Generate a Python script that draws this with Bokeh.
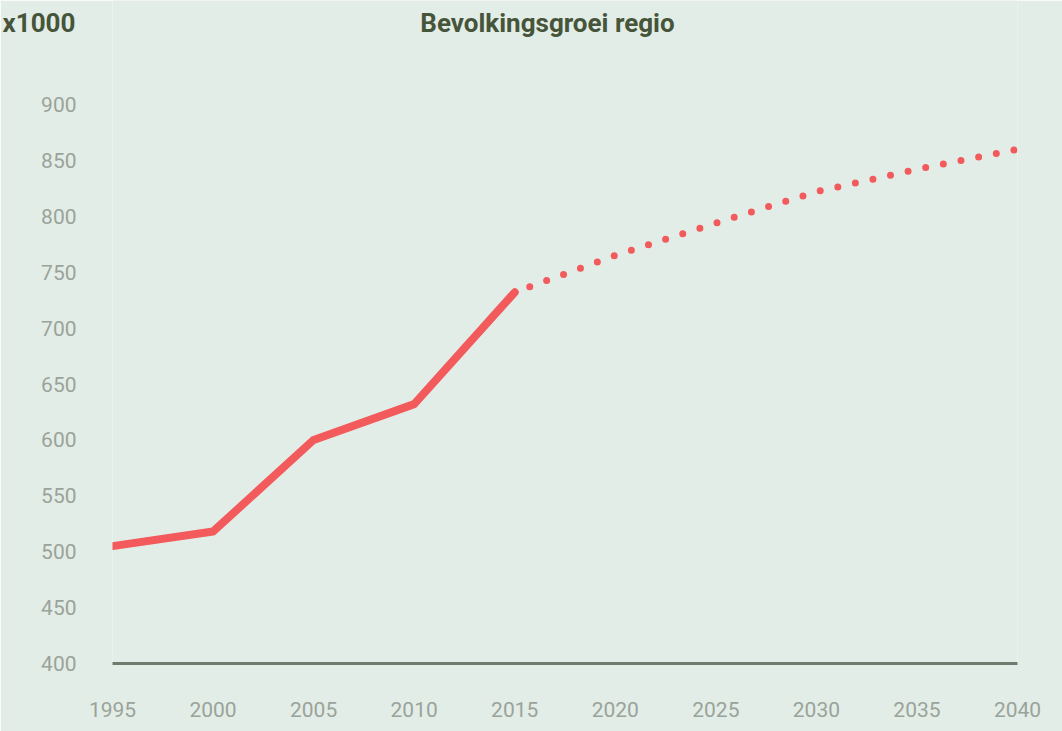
from bokeh.plotting import figure
from bokeh.models import FixedTicker, Range1d, Title, Label
from bokeh.embed import file_html
from bokeh.resources import INLINE

# data
years_actual = [1995, 2000, 2005, 2010, 2015]
pop_actual = [505, 518, 600, 632, 732]
years_proj = [2015, 2020, 2025, 2030, 2035, 2040]
pop_proj = [732, 765, 794, 822, 842, 860]
x_ticks = [1995, 2000, 2005, 2010, 2015, 2020, 2025, 2030, 2035, 2040]
y_ticks = [400, 450, 500, 550, 600, 650, 700, 750, 800, 850, 900]
title_text = "Bevolkingsgroei regio"
unit_text = "x1000"

BG = "#E3EDE7"
RED = "#F25A5C"
TXT = "#46553A"
TICK = "#9AA39A"

W, H = 1062, 731
FL, FR, FB = 112, 1017, 663          # plot area edges (px)
Y0, Y1, Y1_PX = 400, 900, 104        # 900 sits at pixel 104
y_top = Y0 + (Y1 - Y0) * FB / (FB - Y1_PX)   # extend range up to the canvas top

p = figure(width=W, height=H, output_backend="svg", toolbar_location=None,
           x_range=Range1d(1995, 2040), y_range=Range1d(Y0, y_top),
           min_border_left=FL, min_border_right=W - FR, min_border_top=0, min_border_bottom=H - FB,
           background_fill_color=BG, border_fill_color=BG)
p.outline_line_color = None
p.grid.visible = False

p.line(years_actual, pop_actual, line_color=RED, line_width=8, line_join="round", line_cap="round")
p.line(years_proj, pop_proj, line_color=RED, line_width=7, line_cap="round",
       line_dash="0 18", line_dash_offset=-16)

xa = p.xaxis[0]
xa.ticker = FixedTicker(ticks=x_ticks)
xa.axis_line_color = "#6F7B6C"
xa.axis_line_width = 3
xa.major_tick_line_color = None
xa.minor_tick_line_color = None
xa.major_tick_out = 0
xa.major_label_standoff = 38
xa.major_label_text_font = "Roboto"
xa.major_label_text_font_size = "21px"
xa.major_label_text_color = TICK

ya = p.yaxis[0]
ya.ticker = FixedTicker(ticks=y_ticks)
ya.axis_line_color = None
ya.major_tick_line_color = None
ya.minor_tick_line_color = None
ya.major_tick_out = 0
ya.major_label_standoff = 36
ya.major_label_text_font = "Roboto"
ya.major_label_text_font_size = "21px"
ya.major_label_text_color = TICK

# main title inside the (extended) plot area
p.add_layout(Label(x=547 - FL, y=FB - 22, x_units="screen", y_units="screen",
                   text=title_text, text_font="Roboto", text_font_style="bold",
                   text_font_size="26px", text_color=TXT, text_align="center",
                   text_baseline="alphabetic"))
# unit label to the left of the plot area
p.add_layout(Title(text=unit_text, offset=2 - FL, standoff=-74, align="left", vertical_align="bottom",
                   text_font="Roboto", text_font_style="bold", text_font_size="26px",
                   text_color=TXT), "above")

open("out.html", "w").write(file_html(p, INLINE))
